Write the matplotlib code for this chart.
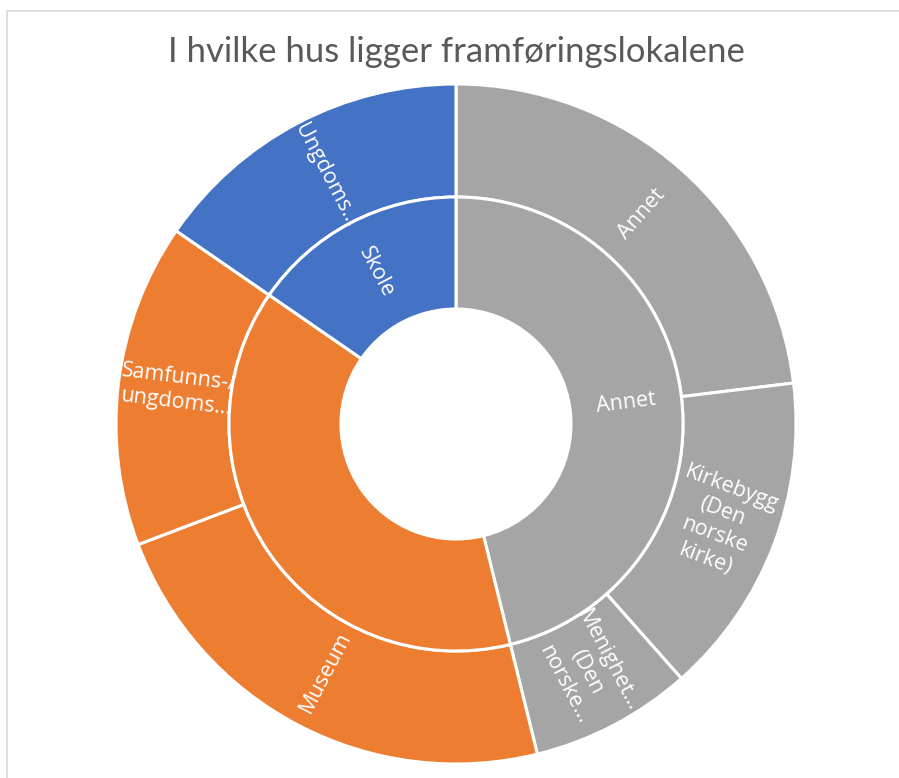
import numpy as np
import matplotlib.pyplot as plt
from matplotlib.patches import Rectangle

# data
title = 'I hvilke hus ligger framføringslokalene'
inner_labels = ['Annet', '', 'Skole']
inner_colors = ['#A5A5A5', '#ED7D31', '#4472C4']
outer_labels = ['Annet', 'Kirkebygg\n(Den\nnorske\nkirke)', 'Menighet…\n(Den\nnorske…',
                'Museum', 'Samfunns-/\nungdoms…', 'Ungdoms…']
outer_values = [3, 2, 1, 3, 2, 2]
outer_parent = [0, 0, 0, 1, 1, 2]

inner_values = [sum(v for v, p in zip(outer_values, outer_parent) if p == i)
                for i in range(len(inner_labels))]
outer_colors = [inner_colors[p] for p in outer_parent]

W, H = 899, 778
fig = plt.figure(figsize=(W / 100, H / 100), dpi=100)
ax = fig.add_axes([0, 0, 1, 1])

cx, cy = 456, H - 424
r_out, r_mid, r_hole = 340, 227, 115
wp = dict(edgecolor='white', linewidth=2.2)

ax.pie(outer_values, radius=r_out, center=(cx, cy), startangle=90, counterclock=False,
       colors=outer_colors, wedgeprops=dict(width=r_out - r_mid, **wp))
ax.pie(inner_values, radius=r_mid, center=(cx, cy), startangle=90, counterclock=False,
       colors=inner_colors, wedgeprops=dict(width=r_mid - r_hole, **wp))
ax.set_xlim(0, W)
ax.set_ylim(0, H)
ax.axis('off')


def put_labels(values, labels, r):
    total = float(sum(values))
    start = 0.0
    for v, lab in zip(values, labels):
        theta = (start + v / 2) / total * 360
        start += v
        if not lab:
            continue
        a = 90 - theta
        x = cx + r * np.cos(np.radians(a))
        y = cy + r * np.sin(np.radians(a))
        rot = ((a + 90) % 180) - 90
        ax.text(x, y, lab, rotation=rot, rotation_mode='anchor', ha='center', va='center',
                multialignment='center', color='white', fontsize=15.5,
                family=['Open Sans', 'DejaVu Sans'], linespacing=1.25)


put_labels(outer_values, outer_labels, (r_out + r_mid) / 2 - 3)
put_labels(inner_values, inner_labels, (r_mid + r_hole) / 2)

fig.text(cx / W, 1 - 62 / H, title, ha='center', va='baseline', fontsize=25,
         color='#595959', family=['Lato', 'DejaVu Sans'])

fig.patches.append(Rectangle((7 / W, -0.1), 1.1, 1 - 11 / H + 0.1, transform=fig.transFigure,
                             fill=False, edgecolor='#D9D9D9', linewidth=1.2))

fig.savefig('out.png', dpi=100)
